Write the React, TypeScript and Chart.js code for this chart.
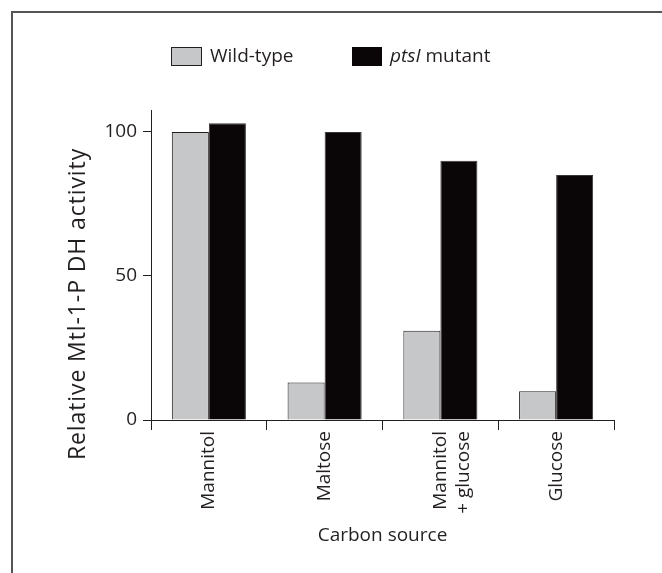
import React, { useEffect, useRef } from "react";
import { Chart, registerables } from "chart.js";

Chart.register(...registerables);

const categories: string[][] = [["Mannitol"], ["Maltose"], ["Mannitol", "+ glucose"], ["Glucose"]];
const wildType: number[] = [100, 13, 31, 10];
const ptsIMutant: number[] = [103, 100, 90, 85];
const yTicks: number[] = [0, 50, 100];
const legendLabels = { wild: "Wild-type", mutantItalic: "ptsI", mutantRest: " mutant" };
const yTitle = "Relative Mtl-1-P DH activity";
const xTitle = "Carbon source";

const FONT = "'Open Sans', 'Noto Sans', sans-serif";
const INK = "#231f20";
const GRAY = "#c6c7c9";
const BLACK = "#0a0506";

const decorPlugin = {
  id: "decor",
  beforeDraw(chart: any) {
    const ctx = chart.ctx;
    ctx.save();
    ctx.fillStyle = "#ffffff";
    ctx.fillRect(0, 0, chart.width, chart.height);
    ctx.strokeStyle = "#555555";
    ctx.lineWidth = 2;
    ctx.beginPath();
    ctx.moveTo(12, chart.height);
    ctx.lineTo(12, 12);
    ctx.lineTo(chart.width, 12);
    ctx.stroke();
    ctx.restore();
  },
  afterDraw(chart: any) {
    const ctx = chart.ctx;
    const area = chart.chartArea;
    ctx.save();
    // legend
    ctx.lineWidth = 1;
    ctx.strokeStyle = INK;
    ctx.fillStyle = GRAY;
    ctx.fillRect(171.5, 47.5, 30, 18);
    ctx.strokeRect(171.5, 47.5, 30, 18);
    ctx.fillStyle = BLACK;
    ctx.fillRect(352, 47, 30, 19);
    ctx.fillStyle = INK;
    ctx.textBaseline = "middle";
    ctx.textAlign = "left";
    ctx.font = `19px ${FONT}`;
    ctx.fillText(legendLabels.wild, 210, 57);
    ctx.font = `italic 19px ${FONT}`;
    ctx.fillText(legendLabels.mutantItalic, 390, 57);
    const w = ctx.measureText(legendLabels.mutantItalic).width;
    ctx.font = `19px ${FONT}`;
    ctx.fillText(legendLabels.mutantRest, 390 + w, 57);
    // x title
    ctx.textAlign = "center";
    ctx.fillText(xTitle, (area.left + area.right) / 2, 536);
    // y title
    ctx.font = `23px ${FONT}`;
    (ctx as any).letterSpacing = "0.9px";
    ctx.translate(78, 304);
    ctx.rotate(-Math.PI / 2);
    ctx.fillText(yTitle, 0, 0);
    ctx.restore();
  },
};

export default function App() {
  const ref = useRef<HTMLCanvasElement | null>(null);
  useEffect(() => {
    if (!ref.current) return;
    const chart = new Chart(ref.current, {
      type: "bar",
      data: {
        labels: categories,
        datasets: [
          {
            label: legendLabels.wild,
            data: wildType,
            backgroundColor: GRAY,
            borderColor: INK,
            borderWidth: 1,
          },
          {
            label: "ptsI mutant",
            data: ptsIMutant,
            backgroundColor: BLACK,
            borderColor: "#3a3637",
            borderWidth: 1,
          },
        ],
      },
      options: {
        responsive: false,
        animation: false,
        devicePixelRatio: 1,
        layout: { padding: { top: 110, right: 48, left: 0, bottom: 0 } },
        plugins: { legend: { display: false }, tooltip: { enabled: false } },
        datasets: { bar: { categoryPercentage: 0.64, barPercentage: 1 } },
        scales: {
          x: {
            grid: { drawOnChartArea: false, tickLength: 10, color: INK, lineWidth: 1, offset: true },
            border: { display: true, color: INK, width: 1 },
            ticks: {
              color: INK,
              font: { family: FONT, size: 19 },
              maxRotation: 90,
              minRotation: 90,
              padding: 1,
              autoSkip: false,
            },
            afterFit: (scale: any) => {
              scale.height = 153;
            },
          },
          y: {
            min: 0,
            max: 107.6,
            afterBuildTicks: (scale: any) => {
              scale.ticks = yTicks.map((v) => ({ value: v }));
            },
            grid: { drawOnChartArea: false, tickLength: 8, color: INK, lineWidth: 1 },
            border: { display: true, color: INK, width: 1 },
            ticks: {
              color: INK,
              font: { family: FONT, size: 19 },
              padding: 6,
            },
            afterFit: (scale: any) => {
              scale.width = 151;
            },
          },
        },
      },
      plugins: [decorPlugin],
    });
    return () => chart.destroy();
  }, []);
  return (
    <div style={{ position: "absolute", left: 0, top: 0, width: 662, height: 573 }}>
      <canvas ref={ref} width={662} height={573} style={{ width: 662, height: 573 }} />
    </div>
  );
}
